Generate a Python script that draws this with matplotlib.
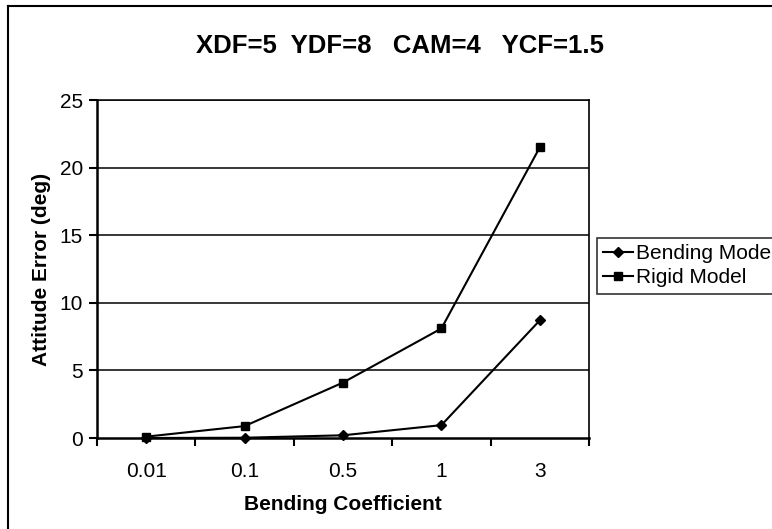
import matplotlib
matplotlib.use("Agg")
import matplotlib.pyplot as plt
from matplotlib.lines import Line2D

categories = ["0.01", "0.1", "0.5", "1", "3"]
bending = [0.0, 0.02, 0.2, 0.95, 8.7]
rigid = [0.1, 0.88, 4.1, 8.1, 21.5]
yticks = [0, 5, 10, 15, 20, 25]

plt.rcParams['font.family'] = ['Liberation Sans', 'DejaVu Sans']

W, H = 772, 529
fig = plt.figure(figsize=(W / 100, H / 100), dpi=100)
ax = fig.add_axes([97 / W, 1 - 438 / H, (589 - 97) / W, (438 - 100) / H])

x = list(range(len(categories)))
ax.plot(x, bending, color='black', lw=1.5, marker='D', ms=5, label='Bending Model', clip_on=False, zorder=3)
ax.plot(x, rigid, color='black', lw=1.5, marker='s', ms=6, label='Rigid Model', clip_on=False, zorder=3)

ax.set_xlim(-0.5, len(categories) - 0.5)
ax.set_ylim(0, 25)
ax.set_yticks(yticks)
ax.set_yticklabels([str(v) for v in yticks], fontsize=15)
for v in yticks[1:]:
    ax.axhline(v, color='black', lw=1.1, zorder=1)

ax.set_xticks([i - 0.5 for i in range(len(categories) + 1)])
ax.set_xticklabels([])
ax.set_xticks(x, minor=True)
ax.set_xticklabels(categories, minor=True, fontsize=15)
ax.tick_params(axis='x', which='major', direction='out', length=6, width=1.5)
ax.tick_params(axis='x', which='minor', length=0, pad=17)
ax.tick_params(axis='y', direction='out', length=6, width=1.5, pad=4)

for s in ['left', 'bottom']:
    ax.spines[s].set_linewidth(1.8)
ax.spines['right'].set_linewidth(1.2)
ax.spines['top'].set_linewidth(1.1)

ax.set_xlabel('Bending Coefficient', fontsize=15, fontweight='bold', labelpad=10)
ax.set_ylabel('Attitude Error (deg)', fontsize=15, fontweight='bold', labelpad=6)

fig.text(400 / W, 1 - 46 / H, 'XDF=5  YDF=8   CAM=4   YCF=1.5', ha='center', va='center',
         fontsize=18.5, fontweight='bold')

leg = ax.legend(loc='upper left', bbox_to_anchor=(597 / W, 1 - 238 / H),
                bbox_transform=fig.transFigure, borderaxespad=0, fontsize=15,
                frameon=True, fancybox=False, handlelength=1.45, handletextpad=0.1,
                labelspacing=0.25, borderpad=0.3)
leg.get_frame().set_edgecolor('black')
leg.get_frame().set_linewidth(1.2)

fig.add_artist(Line2D([8 / W, 8 / W], [0, 1 - 6 / H], transform=fig.transFigure, color='black', lw=1.5))
fig.add_artist(Line2D([8 / W, 1], [1 - 6 / H, 1 - 6 / H], transform=fig.transFigure, color='black', lw=1.5))

fig.savefig('out.png', dpi=100)
